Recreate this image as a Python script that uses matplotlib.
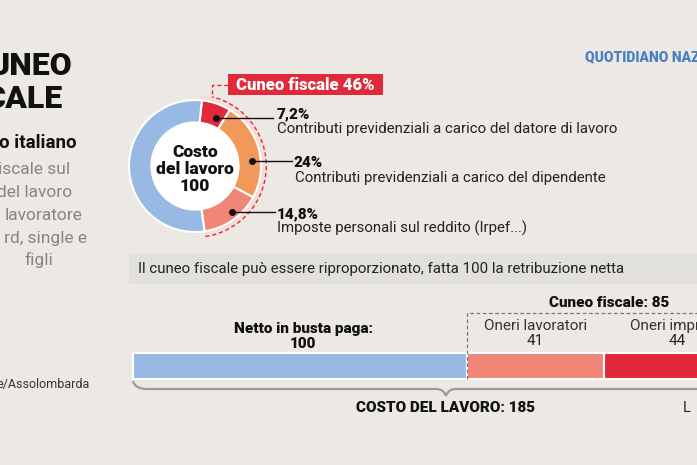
import numpy as np
import matplotlib
matplotlib.use('Agg')
import matplotlib.pyplot as plt
from matplotlib.patches import Circle, Wedge, Arc, Rectangle, PathPatch
from matplotlib.path import Path

plt.rcParams['font.family'] = ['Roboto', 'DejaVu Sans']

# --- data -------------------------------------------------------------
cuneo_tot = 46
quote_valori = [7.2, 24.0, 14.8]
quote_etichette = ['7,2%', '24%', '14,8%']
quote_testi = ['Contributi previdenziali a carico del datore di lavoro',
               'Contributi previdenziali a carico del dipendente',
               'Imposte personali sul reddito (Irpef...)']
netto_quota = 100 - sum(quote_valori)

barre_nomi = ['Netto in busta paga:', 'Oneri lavoratori', 'Oneri imprese']
barre_valori = [100, 41, 44]

# --- colours ----------------------------------------------------------
BG = '#ece9e5'
BLU = '#98b9e4'
ROSSO = '#e2293b'
ARANCIO = '#f1985b'
SALMONE = '#ef8677'
GRIGIO = '#858585'

W, H = 697, 465
fig = plt.figure(figsize=(W / 100, H / 100), dpi=100, facecolor=BG)

def fig_rect(left, top, width, height):
    return [left / W, 1 - (top + height) / H, width / W, height / H]

# --- donut ------------------------------------------------------------
cx, cy, R = 195, 166, 66
lim = 1.3
axp = fig.add_axes(fig_rect(cx - lim * R, cy - lim * R, 2 * lim * R, 2 * lim * R))
axp.axis('off')

start = 84
fine = start - 360 * cuneo_tot / 100
# light band and dashed outline around the fiscal part
axp.add_patch(Wedge((0, 0), 1.08, fine, start + 2, width=0.08,
                    facecolor='#f5dcd8', edgecolor='none'))
axp.add_patch(Arc((0, 0), 2.16, 2.16, theta1=fine, theta2=76,
                  color=ROSSO, lw=1, ls=(0, (3, 2))))

wedges, _ = axp.pie(quote_valori + [netto_quota],
                    colors=[ROSSO, ARANCIO, SALMONE, BLU],
                    startangle=start, counterclock=False, radius=1,
                    wedgeprops=dict(width=0.34, edgecolor='white', linewidth=1.5))
axp.set_xlim(-lim, lim)
axp.set_ylim(-lim, lim)
axp.add_patch(Circle((0, 0), 0.66, facecolor='white', edgecolor='none'))

for i, riga in enumerate(['Costo', 'del lavoro', '100']):
    axp.text(0, (cy - (152 + 17 * i)) / R, riga, ha='center', va='center',
             fontsize=12.5, fontweight='heavy', color='#111111')

# --- stacked bar ----------------------------------------------------------
x0, ppu = 133, 3.34
axb = fig.add_axes(fig_rect(x0, 353, W - x0, 26))
axb.set_xlim(0, (W - x0) / ppu)
axb.set_ylim(-0.5, 0.5)
axb.axis('off')
sinistra = np.concatenate([[0], np.cumsum(barre_valori)[:-1]])
axb.barh(0, barre_valori, left=sinistra, height=1,
         color=[BLU, SALMONE, ROSSO], edgecolor='white', linewidth=1.5,
         clip_on=False)

def bx(v):
    return x0 + v * ppu

# canvas axes in pixel units (origin top-left) for texts and decorations,
# kept on top of the donut and the bar
ax = fig.add_axes([0, 0, 1, 1])
ax.set_zorder(5)
ax.set_xlim(0, W)
ax.set_ylim(H, 0)
ax.axis('off')

# --- left header (cropped at the picture edge) --------------------------
ax.text(72, 75, 'UNEO', ha='right', va='baseline', fontsize=23,
        fontweight='heavy', color='#111111')
ax.text(63, 108, 'CALE', ha='right', va='baseline', fontsize=23,
        fontweight='heavy', color='#111111')
ax.text(77, 148, 'o italiano', ha='right', va='baseline', fontsize=13.5,
        fontweight='bold', color='#111111')
righe = [('iscale sul', 70, 174), ('del lavoro', 72, 197),
         ('lavoratore', 82, 220), ('rd, single e', 87, 243),
         ('figli', 53, 265)]
for txt, xr, yb in righe:
    ax.text(xr, yb, txt, ha='right', va='baseline', fontsize=12.5,
            fontweight='normal', color=GRIGIO)
ax.text(90, 388, 'e/Assolombarda', ha='right', va='baseline',
        fontsize=9, color='#333333')
ax.text(585, 61, 'QUOTIDIANO NAZIONALE', ha='left', va='baseline',
        fontsize=10, fontweight='heavy', color='#4a80c4')

# dashed connector to the "Cuneo fiscale" label
ax.plot([228, 212, 212], [85, 85, 97], color=ROSSO, lw=1, ls=(0, (3, 2)))
ax.add_patch(Rectangle((228, 74), 155, 21, facecolor=ROSSO, edgecolor='none'))
ax.text(305.5, 85, 'Cuneo fiscale %d%%' % cuneo_tot, ha='center', va='center',
        fontsize=12, fontweight='heavy', color='white')

# leaders: dot position in the wedge (angle, radius), line end, text spot
leader = [(67, 0.80, 273, 118, 277, 118, 277, 133),
          (5, 0.86, 292, 161, 293, 167, 295, 182),
          (-51, 0.88, 275, 212, 277, 218, 277, 233)]
for k, (ang, rr, xe, yl, xt, yt, xd, yd) in enumerate(leader):
    px = cx + R * rr * np.cos(np.radians(ang))
    ax.plot(px, yl, 'o', color='#111111', ms=4)
    ax.plot([px, xe], [yl, yl], color='#111111', lw=1)
    ax.text(xt, yt, quote_etichette[k], ha='left', va='baseline',
            fontsize=11, fontweight='heavy', color='#111111')
    ax.text(xd, yd, quote_testi[k], ha='left', va='baseline',
            fontsize=10.8, color='#222222')

# --- grey band ----------------------------------------------------------
ax.add_patch(Rectangle((129, 254), W - 129, 30, facecolor='#e2e0dd',
                       edgecolor='none', zorder=0))
ax.text(138, 269, 'Il cuneo fiscale può essere riproporzionato, fatta 100 '
        'la retribuzione netta', ha='left', va='center', fontsize=10.8,
        color='#222222')

# --- bar labels ---------------------------------------------------------
centri = [bx(l + v / 2) for l, v in zip(sinistra, barre_valori)]
ax.text(centri[0] + 3, 333, barre_nomi[0], ha='center', va='baseline',
        fontsize=11, fontweight='heavy', color='#111111')
ax.text(centri[0] + 3, 348, str(barre_valori[0]), ha='center', va='baseline',
        fontsize=11, fontweight='heavy', color='#111111')
for i in (1, 2):
    ax.text(centri[i], 330, barre_nomi[i], ha='center', va='baseline',
            fontsize=11, fontweight='normal', color='#333333')
    ax.text(centri[i], 345, str(barre_valori[i]), ha='center', va='baseline',
            fontsize=11, color='#222222')

cuneo_bar = sum(barre_valori[1:])
xc = bx(barre_valori[0])
ax.plot([xc, xc, W], [379, 313, 313], color='#777777', lw=0.9,
        ls=(0, (3, 2)))
ax.text(bx(barre_valori[0] + cuneo_bar / 2), 307,
        'Cuneo fiscale: %d' % cuneo_bar, ha='center', va='baseline',
        fontsize=11, fontweight='heavy', color='#111111')

# brace under the bar
totale = sum(barre_valori)
xm = bx(totale / 2) + 4
verts = [(x0, 381), (x0 + 2, 389), (x0 + 14, 389), (xm - 10, 389),
         (xm - 2, 389), (xm, 396), (xm, 396), (xm + 2, 389), (xm + 10, 389),
         (W + 5, 389)]
codes = [Path.MOVETO, Path.CURVE3, Path.CURVE3, Path.LINETO,
         Path.CURVE3, Path.CURVE3, Path.MOVETO, Path.CURVE3, Path.CURVE3,
         Path.LINETO]
ax.add_patch(PathPatch(Path(verts, codes), facecolor='none',
                       edgecolor='#9a9a9a', lw=1.6))
ax.text(xm, 412, 'COSTO DEL LAVORO: %d' % totale, ha='center', va='baseline',
        fontsize=11, fontweight='heavy', color='#111111')
ax.text(683, 412, 'L', ha='left', va='baseline', fontsize=10.5,
        color='#222222')

fig.savefig('out.png', dpi=100, facecolor=BG)
